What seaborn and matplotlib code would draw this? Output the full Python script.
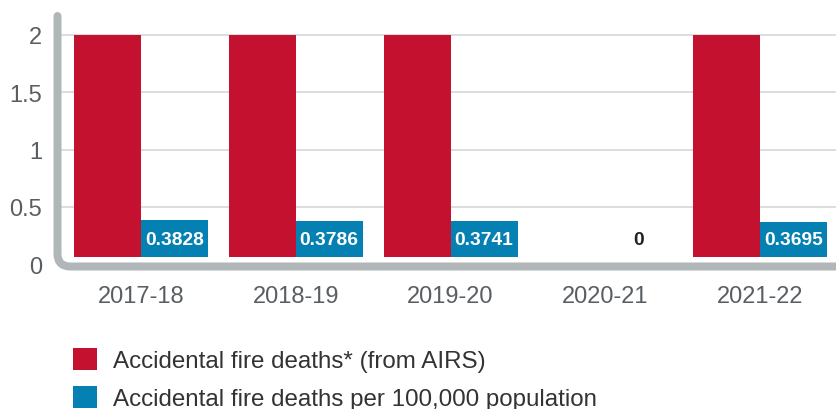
import matplotlib
matplotlib.use("Agg")
import matplotlib.pyplot as plt
from matplotlib.path import Path
from matplotlib.patches import PathPatch, Patch
import seaborn as sns
import pandas as pd

years = ["2017-18", "2018-19", "2019-20", "2020-21", "2021-22"]
deaths = [2, 2, 2, 0, 2]
per_100k = [0.3828, 0.3786, 0.3741, 0, 0.3695]
series_names = ["Accidental fire deaths* (from AIRS)",
                "Accidental fire deaths per 100,000 population"]
y_ticks = [0, 0.5, 1, 1.5, 2]
y_tick_labels = ["0", "0.5", "1", "1.5", "2"]

RED = "#C4112F"
BLUE = "#0580B2"
AXIS_GRAY = "#B1B6B9"
GRID = "#D5D7D8"
TEXT = "#595E62"

df = pd.DataFrame({
    "year": years * 2,
    "value": deaths + per_100k,
    "series": [series_names[0]] * len(years) + [series_names[1]] * len(years),
})

sns.set_style("white")
plt.rcParams["font.family"] = ["Liberation Sans", "DejaVu Sans"]

W, H = 836, 410
fig = plt.figure(figsize=(W / 100, H / 100), dpi=100)
y0_px = 265.4
px_per_unit = 114.85
ytop = 2.2
top_px = y0_px - ytop * px_per_unit
ax_left_px = 58
ax = fig.add_axes([ax_left_px / W, 1 - y0_px / H, 1 - ax_left_px / W, (y0_px - top_px) / H])

sns.barplot(data=df, x="year", y="value", hue="series",
            palette={series_names[0]: RED, series_names[1]: BLUE},
            width=0.865, saturation=1, errorbar=None, ax=ax, legend=False,
            linewidth=0, edgecolor="none", zorder=3)

ax.set_ylim(0, ytop)
ax.set_xlim(-0.536, 4.49)
ax.set_yticks(y_ticks)
ax.set_yticklabels(y_tick_labels)
ax.set_xlabel("")
ax.set_ylabel("")
for s in ax.spines.values():
    s.set_visible(False)
ax.yaxis.grid(True, color=GRID, linewidth=1.2, zorder=0)
ax.set_axisbelow(True)
ax.tick_params(axis="both", length=0, labelsize=17, colors=TEXT)
ax.tick_params(axis="y", pad=11.5)
ax.tick_params(axis="x", pad=15)

# value labels on the second series
for patch, v in zip(ax.containers[1], per_100k):
    cx = patch.get_x() + patch.get_width() / 2
    ax.text(cx, 0.22, f"{v:g}", ha="center", va="center",
            fontsize=13.8, fontweight="bold",
            color="white" if v > 0 else "#222222", zorder=5)

# white gap between bars and axis line
ax.axhspan(-0.05, 0.065, color="white", zorder=4, linewidth=0)

# rounded axis line
lx, by, r = 57.5, 267.5, 13
def f(x, y):
    return (x / W, 1 - y / H)
verts = [f(lx, 17), f(lx, by - r), f(lx, by), f(lx + r, by), f(W + 20, by)]
codes = [Path.MOVETO, Path.LINETO, Path.CURVE3, Path.CURVE3, Path.LINETO]
pp = PathPatch(Path(verts, codes), fill=False, edgecolor=AXIS_GRAY,
               linewidth=8 * 0.72, capstyle="round", joinstyle="round",
               transform=fig.transFigure)
fig.add_artist(pp)

handles = [Patch(facecolor=RED, edgecolor="none"), Patch(facecolor=BLUE, edgecolor="none")]
fig.legend(handles, series_names, loc="upper left",
           bbox_to_anchor=(73 / W, 1 - 349 / H), frameon=False,
           fontsize=17.4, labelcolor="#333333", borderpad=0, borderaxespad=0,
           handlelength=1.0, handleheight=1.0, handletextpad=0.66,
           labelspacing=0.58)

fig.savefig("out.png", dpi=100)
